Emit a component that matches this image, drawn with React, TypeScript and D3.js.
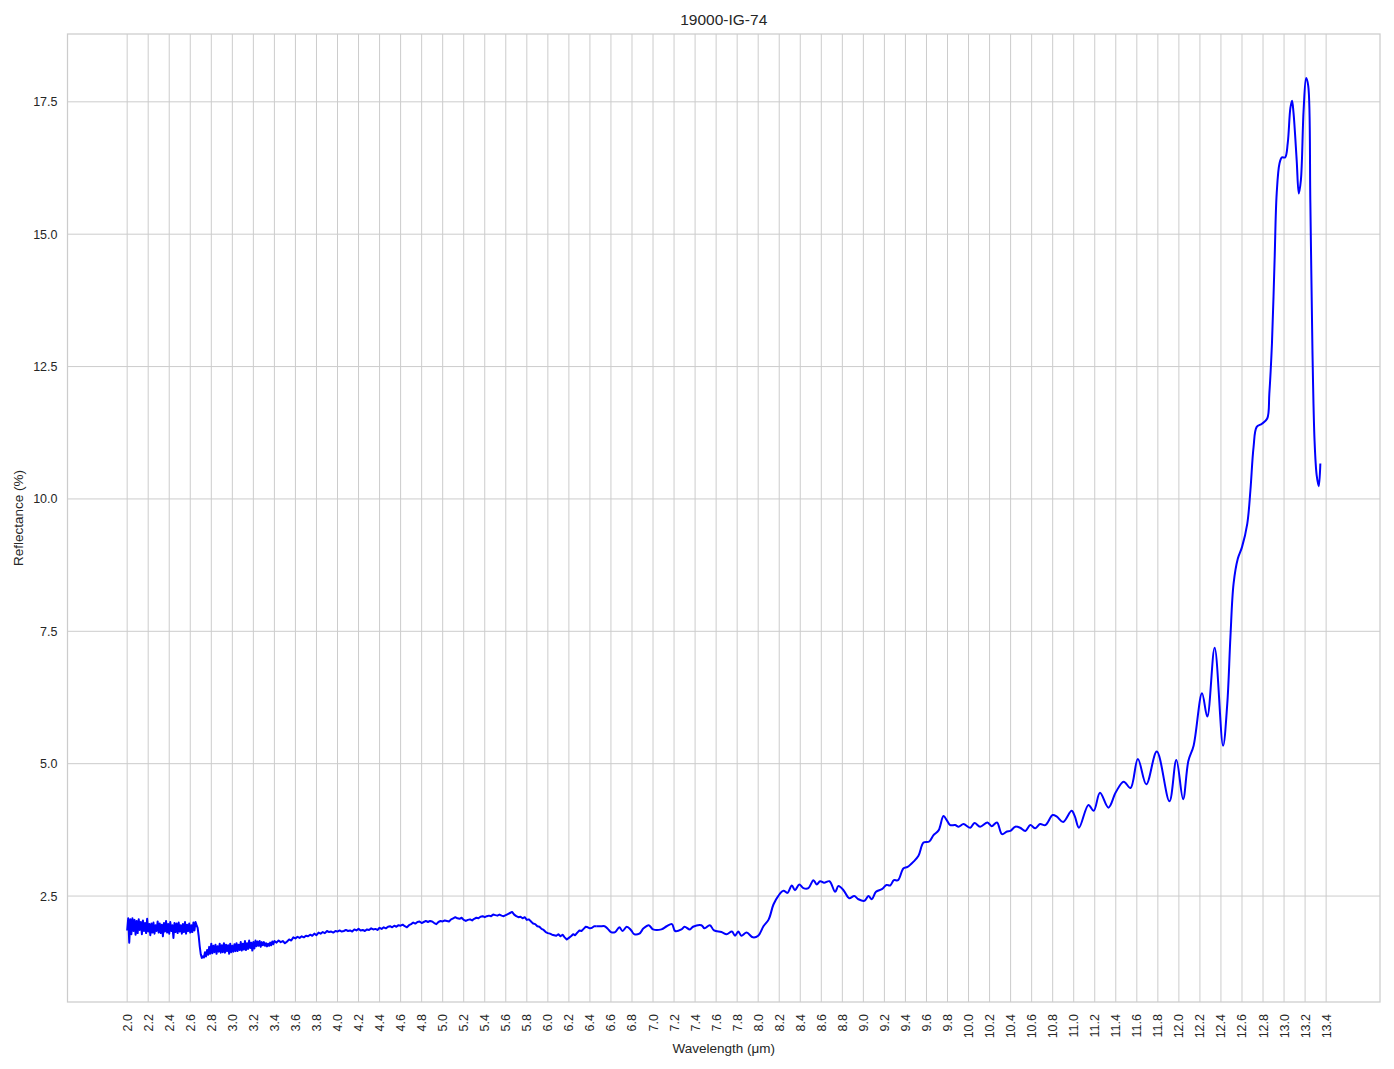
import { useEffect, useRef } from 'react';
import * as d3 from 'd3';

// noisy start of the spectrum, sampled every 0.01 um from 2.00 to 3.40
const noisyStart = 2.0;
const noisyStep = 0.01;
const noisyValues = [
    1.85, 2.08, 1.62, 2.06, 1.78, 2.08, 1.84, 2.05, 1.77, 2.03,
    1.80, 2.06, 1.86, 2.01, 1.78, 2.04, 1.84, 1.99, 1.80, 2.07,
    1.83, 1.97, 1.76, 1.98, 1.81, 2.00, 1.79, 1.95, 1.84, 2.02,
    1.81, 1.98, 1.80, 1.96, 1.74, 1.99, 1.83, 2.03, 1.81, 1.97,
    1.79, 2.01, 1.84, 1.95, 1.71, 1.99, 1.82, 1.98, 1.80, 2.00,
    1.83, 1.95, 1.79, 1.97, 1.82, 2.01, 1.79, 1.96, 1.84, 1.98,
    1.81, 1.95, 1.82, 2.00, 1.85, 2.01, 1.95, 1.90, 1.75, 1.55,
    1.40, 1.33, 1.36, 1.34, 1.44, 1.36, 1.48, 1.39, 1.54, 1.41,
    1.60, 1.42, 1.56, 1.44, 1.58, 1.41, 1.55, 1.45, 1.60, 1.43,
    1.57, 1.44, 1.61, 1.43, 1.58, 1.46, 1.57, 1.41, 1.60, 1.44,
    1.56, 1.45, 1.59, 1.46, 1.61, 1.46, 1.58, 1.48, 1.63, 1.47,
    1.60, 1.49, 1.65, 1.48, 1.61, 1.50, 1.66, 1.52, 1.62, 1.47,
    1.63, 1.51, 1.66, 1.55, 1.64, 1.56, 1.65, 1.54, 1.63, 1.57,
    1.63, 1.56, 1.61, 1.55, 1.60, 1.56, 1.62, 1.57, 1.64, 1.59, 1.65,
];

// middle part, sampled every 0.02 um from 3.42 to 6.46
const midStart = 3.42;
const midStep = 0.02;
const midValues = [
    1.62, 1.66, 1.63, 1.65, 1.61, 1.64, 1.68, 1.66, 1.72, 1.70,
    1.73, 1.71, 1.74, 1.72, 1.75, 1.74, 1.77, 1.75, 1.79, 1.76,
    1.81, 1.79, 1.82, 1.80, 1.84, 1.82, 1.83, 1.81, 1.84, 1.83,
    1.85, 1.83, 1.84, 1.86, 1.84, 1.85, 1.83, 1.87, 1.85, 1.88,
    1.85, 1.86, 1.84, 1.87, 1.86, 1.89, 1.87, 1.88, 1.86, 1.90,
    1.88, 1.91, 1.89, 1.92, 1.93, 1.91, 1.94, 1.92, 1.95, 1.94,
    1.96, 1.93, 1.91, 1.95, 1.97, 2.00, 1.98, 2.01, 2.02, 1.99,
    2.01, 2.03, 2.01, 2.03, 2.02, 1.99, 1.97, 2.01, 2.03, 2.02,
    2.04, 2.03, 2.02, 2.06, 2.08, 2.10, 2.08, 2.07, 2.09, 2.05,
    2.03, 2.05, 2.06, 2.04, 2.07, 2.09, 2.08, 2.11, 2.12, 2.10,
    2.12, 2.13, 2.12, 2.15, 2.14, 2.13, 2.15, 2.13, 2.12, 2.14,
    2.16, 2.18, 2.20, 2.15, 2.12, 2.10, 2.11, 2.08, 2.10, 2.05,
    2.06, 2.02, 1.98, 1.97, 1.93, 1.92, 1.88, 1.86, 1.82, 1.80,
    1.79, 1.77, 1.76, 1.75, 1.78, 1.74, 1.77, 1.72, 1.68, 1.71,
    1.74, 1.78, 1.76, 1.81, 1.85, 1.84, 1.88, 1.92, 1.91, 1.89,
    1.90, 1.93, 1.93,
];

// smooth tail read point by point: [wavelength, reflectance]
const tail: [number, number][] = [
    [6.50, 1.93], [6.54, 1.93], [6.57, 1.88], [6.60, 1.82], [6.64, 1.82], [6.68, 1.91],
    [6.71, 1.84], [6.75, 1.92], [6.79, 1.86], [6.82, 1.78], [6.87, 1.79], [6.91, 1.89],
    [6.96, 1.95], [7.00, 1.87], [7.08, 1.87], [7.13, 1.93], [7.18, 1.97], [7.21, 1.84],
    [7.27, 1.87], [7.30, 1.92], [7.35, 1.87], [7.38, 1.92], [7.46, 1.95], [7.49, 1.89],
    [7.54, 1.95], [7.58, 1.85], [7.65, 1.82], [7.70, 1.78], [7.75, 1.83], [7.78, 1.75],
    [7.81, 1.83], [7.84, 1.75], [7.89, 1.81], [7.95, 1.72], [8.00, 1.75], [8.05, 1.93],
    [8.10, 2.06], [8.145, 2.34], [8.19, 2.50], [8.24, 2.60], [8.278, 2.56], [8.32, 2.70],
    [8.35, 2.61], [8.39, 2.72], [8.43, 2.65], [8.478, 2.65], [8.525, 2.80], [8.557, 2.72],
    [8.589, 2.78], [8.627, 2.75], [8.678, 2.78], [8.732, 2.58], [8.763, 2.69], [8.811, 2.61],
    [8.865, 2.46], [8.913, 2.50], [8.953, 2.44], [9.01, 2.41], [9.048, 2.50], [9.08, 2.44],
    [9.12, 2.58], [9.176, 2.63], [9.22, 2.71], [9.255, 2.70], [9.29, 2.80], [9.33, 2.80],
    [9.38, 3.02], [9.42, 3.05], [9.477, 3.15], [9.524, 3.26], [9.572, 3.51], [9.626, 3.53],
    [9.667, 3.65], [9.715, 3.74], [9.762, 4.01], [9.794, 3.93], [9.826, 3.84], [9.873, 3.84],
    [9.905, 3.81], [9.952, 3.86], [10.016, 3.79], [10.057, 3.88], [10.11, 3.81], [10.18, 3.89],
    [10.22, 3.82], [10.27, 3.89], [10.318, 3.67], [10.366, 3.72], [10.397, 3.73], [10.445, 3.81],
    [10.49, 3.79], [10.54, 3.73], [10.587, 3.84], [10.635, 3.78], [10.68, 3.86], [10.73, 3.84],
    [10.80, 4.03], [10.84, 4.00], [10.90, 3.90], [10.98, 4.11], [11.01, 4.01], [11.05, 3.79],
    [11.14, 4.22], [11.19, 4.11], [11.25, 4.45], [11.33, 4.17], [11.40, 4.46], [11.475, 4.66],
    [11.54, 4.54], [11.61, 5.09], [11.69, 4.61], [11.79, 5.23], [11.91, 4.29], [11.976, 5.07],
    [12.04, 4.33], [12.09, 5.05], [12.14, 5.34], [12.22, 6.33], [12.27, 5.89], [12.34, 7.19],
    [12.42, 5.34], [12.46, 6.13], [12.49, 7.39], [12.52, 8.40], [12.56, 8.87], [12.60, 9.09],
    [12.65, 9.53], [12.68, 10.16], [12.71, 10.98], [12.74, 11.36], [12.79, 11.42], [12.84, 11.52],
    [12.86, 11.99], [12.885, 12.94], [12.91, 14.51], [12.93, 15.77], [12.957, 16.34], [12.98, 16.45],
    [13.01, 16.45], [13.035, 16.72], [13.06, 17.38], [13.076, 17.52], [13.09, 17.29], [13.12, 16.40],
    [13.14, 15.77], [13.16, 16.02], [13.186, 17.35], [13.21, 17.95], [13.23, 17.80], [13.25, 15.60],
    [13.27, 12.80], [13.29, 11.10], [13.31, 10.45], [13.33, 10.24], [13.345, 10.67],
];

const xTicks = d3.range(0, 58).map(i => 2.0 + i * 0.2);
const yTicks = [2.5, 5.0, 7.5, 10.0, 12.5, 15.0, 17.5];

const title = '19000-IG-74';
const xLabel = 'Wavelength (μm)';
const yLabel = 'Reflectance (%)';

const width = 1394;
const height = 1069;
const margin = { top: 34, right: 14, bottom: 67, left: 67.5 };
const font = "Arial, 'Liberation Sans', sans-serif";
const gridColor = '#cccccc';
const textColor = '#262626';

const App = () => {
    const svgRef = useRef<SVGSVGElement>(null);

    useEffect(() => {
        document.body.style.margin = '0';
        const svg = d3.select(svgRef.current);
        svg.selectAll('*').remove();

        const noisy = noisyValues.map((v, i) => [noisyStart + i * noisyStep, v] as [number, number]);
        const mid = midValues.map((v, i) => [midStart + i * midStep, v] as [number, number]);
        const rough = [...noisy, ...mid];
        const all = [...rough, ...tail];

        const [xMin, xMax] = d3.extent(all, d => d[0]) as [number, number];
        const [yMin, yMax] = d3.extent(all, d => d[1]) as [number, number];
        const xPad = (xMax - xMin) * 0.05;
        const yPad = (yMax - yMin) * 0.05;

        const innerW = width - margin.left - margin.right;
        const innerH = height - margin.top - margin.bottom;

        const x = d3.scaleLinear().domain([xMin - xPad, xMax + xPad]).range([0, innerW]);
        const y = d3.scaleLinear().domain([yMin - yPad, yMax + yPad]).range([innerH, 0]);

        const g = svg.append('g').attr('transform', `translate(${margin.left},${margin.top})`);

        // grid
        g.append('g')
            .selectAll('line')
            .data(xTicks)
            .join('line')
            .attr('x1', d => x(d))
            .attr('x2', d => x(d))
            .attr('y1', 0)
            .attr('y2', innerH)
            .attr('stroke', gridColor)
            .attr('stroke-width', 1);
        g.append('g')
            .selectAll('line')
            .data(yTicks)
            .join('line')
            .attr('x1', 0)
            .attr('x2', innerW)
            .attr('y1', d => y(d))
            .attr('y2', d => y(d))
            .attr('stroke', gridColor)
            .attr('stroke-width', 1);

        // frame
        g.append('rect')
            .attr('width', innerW)
            .attr('height', innerH)
            .attr('fill', 'none')
            .attr('stroke', gridColor)
            .attr('stroke-width', 1.25);

        // tick labels
        g.append('g')
            .selectAll('text')
            .data(xTicks)
            .join('text')
            .attr('transform', d => `translate(${x(d) + 4.5},${innerH + 12}) rotate(-90)`)
            .attr('text-anchor', 'end')
            .attr('font-family', font)
            .attr('font-size', 12.5)
            .attr('fill', textColor)
            .text(d => d.toFixed(1));
        g.append('g')
            .selectAll('text')
            .data(yTicks)
            .join('text')
            .attr('x', -10)
            .attr('y', d => y(d) + 4.5)
            .attr('text-anchor', 'end')
            .attr('font-family', font)
            .attr('font-size', 12.5)
            .attr('fill', textColor)
            .text(d => d.toFixed(1));

        // the spectrum
        const roughLine = d3.line<[number, number]>().x(d => x(d[0])).y(d => y(d[1]));
        const smoothLine = d3
            .line<[number, number]>()
            .x(d => x(d[0]))
            .y(d => y(d[1]))
            .curve(d3.curveCatmullRom.alpha(0.5));
        g.append('path')
            .attr('d', roughLine(rough))
            .attr('fill', 'none')
            .attr('stroke', '#0000ff')
            .attr('stroke-width', 2)
            .attr('stroke-linejoin', 'round');
        g.append('path')
            .attr('d', smoothLine([rough[rough.length - 1], ...tail]))
            .attr('fill', 'none')
            .attr('stroke', '#0000ff')
            .attr('stroke-width', 2)
            .attr('stroke-linejoin', 'round');

        // labels
        svg.append('text')
            .attr('x', margin.left + innerW / 2)
            .attr('y', 25)
            .attr('text-anchor', 'middle')
            .attr('font-family', font)
            .attr('font-size', 15.5)
            .attr('fill', textColor)
            .text(title);
        svg.append('text')
            .attr('x', margin.left + innerW / 2)
            .attr('y', 1053)
            .attr('text-anchor', 'middle')
            .attr('font-family', font)
            .attr('font-size', 13.5)
            .attr('fill', textColor)
            .text(xLabel);
        svg.append('text')
            .attr('transform', `translate(23,${margin.top + innerH / 2}) rotate(-90)`)
            .attr('text-anchor', 'middle')
            .attr('font-family', font)
            .attr('font-size', 13.5)
            .attr('fill', textColor)
            .text(yLabel);
    }, []);

    return <svg ref={svgRef} width={width} height={height} style={{ display: 'block', background: '#fff' }}></svg>;
};

export default App;
